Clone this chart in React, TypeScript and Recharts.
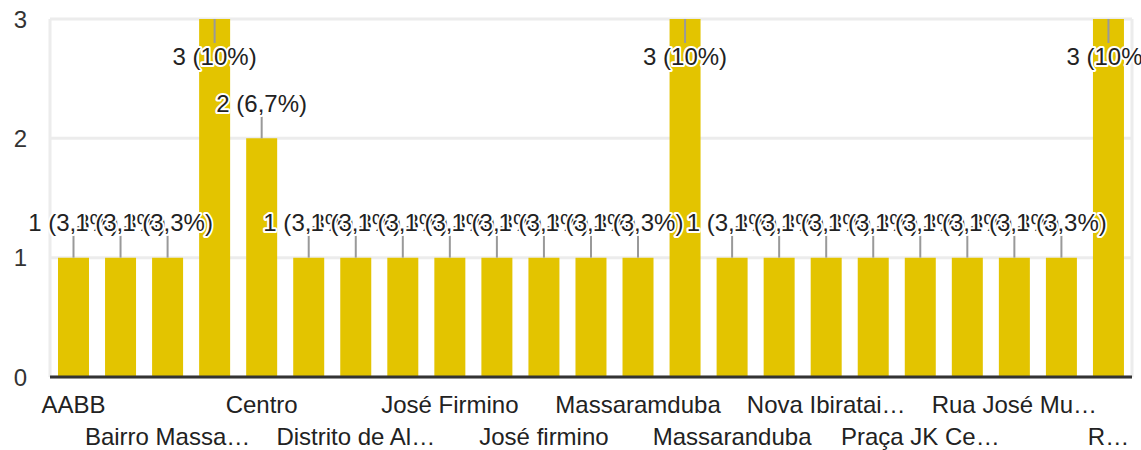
import { BarChart, Bar, XAxis, YAxis, CartesianGrid, LabelList } from 'recharts'

const categories = [
  'AABB', 'Alto Alegre', 'Bairro Massaranduba', 'Bairro Novo', 'Centro',
  'Cidade Nova', 'Distrito de Alcantil', 'Jardim', 'José Firmino', 'José Firmino Neto',
  'José firmino', 'Jurema', 'Massaramduba', 'Massaran', 'Massaranduba',
  'Nova Brasília', 'Nova Ibirataia', 'Placas', 'Praça JK Centro', 'Rua Gov. Lira',
  'Rua José Muniz', 'Rua Projetada', 'Rural',
]

const tickLabels = [
  'AABB', '', 'Bairro Massa…', '', 'Centro',
  '', 'Distrito de Al…', '', 'José Firmino', '',
  'José firmino', '', 'Massaramduba', '', 'Massaranduba',
  '', 'Nova Ibiratai…', '', 'Praça JK Ce…', '',
  'Rua José Mu…', '', 'R…',
]

const counts = [1, 1, 1, 3, 2, 1, 1, 1, 1, 1, 1, 1, 1, 3, 1, 1, 1, 1, 1, 1, 1, 1, 3]

const yTicks = [0, 1, 2, 3]

const total = counts.reduce((a, b) => a + b, 0)
const data = categories.map((name, i) => ({ name, value: counts[i] }))

const FONT = 'Arial, "Liberation Sans", sans-serif'
const YELLOW = '#e3c400'

function pct(v: number) {
  const p = Math.round((v / total) * 1000) / 10
  return String(p).replace('.', ',') + '%'
}

function XTick(props: any) {
  const { x, y, index } = props
  const label = tickLabels[index]
  if (!label) return null
  const row = index % 4 === 0 ? 0 : 1
  return (
    <text x={x} y={y + 19 + row * 32} textAnchor="middle" dominantBaseline="central"
      fontFamily={FONT} fontSize={24} fill="#222">
      {label}
    </text>
  )
}

function YTick(props: any) {
  const { y, payload } = props
  return (
    <text x={27} y={y} textAnchor="end" dominantBaseline="central"
      fontFamily={FONT} fontSize={24} fill="#333">
      {payload.value}
    </text>
  )
}

function BarLabel(props: any) {
  const { x, y, width, value } = props
  const cx = x + width / 2
  const atTop = y < 60
  const y2 = atTop ? y + 24 : y - 22
  const ty = atTop ? y + 37 : y - 35
  return (
    <g>
      <line x1={cx} x2={cx} y1={y} y2={y2} stroke="#999" strokeWidth={2} />
      <text x={cx} y={ty} textAnchor="middle" dominantBaseline="central"
        fontFamily={FONT} fontSize={24} fill="#222" stroke="#fff" strokeWidth={4}
        strokeLinejoin="round" paintOrder="stroke">
        {value} ({pct(value)})
      </text>
    </g>
  )
}

export default function App() {
  return (
    <div style={{ position: 'absolute', left: 0, top: 0, background: '#fff' }}>
      <BarChart width={1141} height={450} data={data}
        margin={{ top: 19, right: 9, bottom: 0, left: 0 }} barCategoryGap="17%">
        <CartesianGrid stroke="#ececec" strokeWidth={3}
          verticalCoordinatesGenerator={({ offset }: any) => [offset.left, offset.left + offset.width]} />
        <YAxis type="number" domain={[0, 3]} ticks={yTicks} width={50}
          axisLine={false} tickLine={false} tick={<YTick />} interval={0} />
        <XAxis dataKey="name" height={73} interval={0} tickLine={false}
          axisLine={{ stroke: '#333', strokeWidth: 3 }} tick={<XTick />} />
        <Bar dataKey="value" fill={YELLOW} isAnimationActive={false}>
          <LabelList dataKey="value" content={<BarLabel />} />
        </Bar>
      </BarChart>
    </div>
  )
}
